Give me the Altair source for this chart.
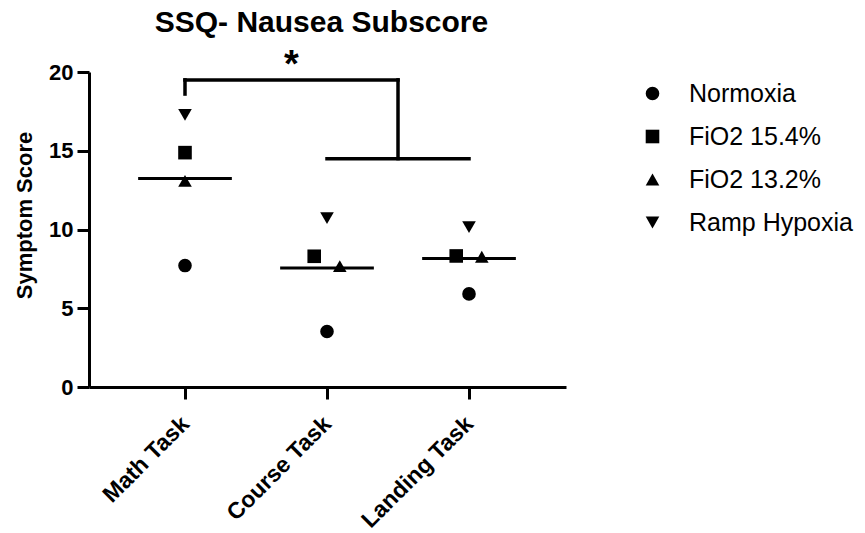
import json
import altair as alt
import pandas as pd

# Task categories and the four oxygen conditions
tasks = ["Math Task", "Course Task", "Landing Task"]
conditions = ["Normoxia", "FiO2 15.4%", "FiO2 13.2%", "Ramp Hypoxia"]
shapes = ["circle", "square", "triangle-up", "triangle-down"]

# Nausea subscore per condition, one value per task (Math, Course, Landing)
normoxia = [7.71, 3.52, 5.91]
fio2_154 = [14.88, 8.30, 8.32]
fio2_132 = [13.09, 7.67, 8.27]
ramp_hypoxia = [17.28, 10.72, 10.15]

# Significance annotation: Math Task vs. Course/Landing Tasks
bracket_top = 19.5
bracket_left_end = 18.6
bracket_group_bar = 14.5
star_label = "*"

FONT = "Liberation Sans"
DODGE = 0.09          # horizontal spread for overlapping points (in category units)
MEAN_HALF = 0.33      # half width of the mean line
X_DOMAIN = [-0.676, 2.683]

series = [normoxia, fio2_154, fio2_132, ramp_hypoxia]
rows = []
for ti, task in enumerate(tasks):
    vals = [(ci, s[ti]) for ci, s in enumerate(series)]
    offs = {ci: 0.0 for ci, _ in vals}
    # spread points that would overlap: earlier condition left, later right
    for a in range(len(vals)):
        for b in range(a + 1, len(vals)):
            if abs(vals[a][1] - vals[b][1]) < 1.0:
                offs[vals[a][0]] = -DODGE
                offs[vals[b][0]] = DODGE
    for ci, v in vals:
        rows.append({"task": task, "idx": ti, "xpos": ti + offs[ci],
                     "condition": conditions[ci], "score": v})
df = pd.DataFrame(rows)

x_scale = alt.Scale(domain=X_DOMAIN, nice=False, zero=False)
y_scale = alt.Scale(domain=[0, 20], nice=False)

label_expr = "%s[datum.value]" % json.dumps(tasks)

x_axis = alt.Axis(values=[0, 1, 2], labelExpr=label_expr, title=None,
                  labelAngle=315, labelAlign="right", labelBaseline="middle",
                  labelPadding=21, labelFontSize=23, labelFontWeight="bold",
                  tickSize=12, grid=False)
y_axis = alt.Axis(values=[0, 5, 10, 15, 20], title="Symptom Score",
                  titleFontSize=22, titleFontWeight="bold", titleAngle=270,
                  titleX=-65, titleY=143, titleAlign="center",
                  titleBaseline="middle",
                  labelFontSize=22, labelFontWeight="bold", labelPadding=4,
                  tickSize=12, grid=False)

points = alt.Chart(df).mark_point(filled=True, size=185, color="black",
                                  opacity=1).encode(
    x=alt.X("xpos:Q", scale=x_scale, axis=x_axis),
    y=alt.Y("score:Q", scale=y_scale, axis=y_axis),
    shape=alt.Shape("condition:N",
                    scale=alt.Scale(domain=conditions, range=shapes),
                    legend=alt.Legend(title=None, orient="none",
                                      legendX=551, legendY=9,
                                      labelFontSize=25, labelFont=FONT,
                                      labelColor="black", labelOffset=24,
                                      labelLimit=400,
                                      symbolSize=185, symbolFillColor="black",
                                      symbolStrokeWidth=0, rowPadding=17,
                                      padding=0)),
)

means = alt.Chart(df).transform_aggregate(
    mean_score="mean(score)", groupby=["task", "idx"]
).transform_calculate(
    x1=f"datum.idx - {MEAN_HALF}", x2=f"datum.idx + {MEAN_HALF}"
).mark_rule(color="black", strokeWidth=3).encode(
    x=alt.X("x1:Q", scale=x_scale, axis=x_axis),
    x2="x2:Q",
    y=alt.Y("mean_score:Q", scale=y_scale, axis=y_axis),
)

# bracket joining Math Task to the Course/Landing pair
left_x = 0
right_x = (1 + 2) / 2
bracket_df = pd.DataFrame([
    {"x1": left_x, "x2": right_x, "y1": bracket_top, "y2": bracket_top},
    {"x1": left_x, "x2": left_x, "y1": bracket_left_end, "y2": bracket_top},
    {"x1": right_x, "x2": right_x, "y1": bracket_group_bar, "y2": bracket_top},
    {"x1": 1, "x2": 2, "y1": bracket_group_bar, "y2": bracket_group_bar},
])
bracket = alt.Chart(bracket_df).mark_rule(
    color="black", strokeWidth=3.5, strokeCap="square"
).encode(
    x=alt.X("x1:Q", scale=x_scale, axis=x_axis),
    x2="x2:Q",
    y=alt.Y("y1:Q", scale=y_scale, axis=y_axis),
    y2="y2:Q",
)

star_df = pd.DataFrame([{"x": (left_x + right_x) / 2, "y": bracket_top,
                         "label": star_label}])
star = alt.Chart(star_df).mark_text(
    font=FONT, fontSize=38, fontWeight="bold", color="black",
    baseline="alphabetic", align="center", dy=-3
).encode(
    x=alt.X("x:Q", scale=x_scale, axis=x_axis),
    y=alt.Y("y:Q", scale=y_scale, axis=y_axis),
    text="label:N",
)

chart = alt.layer(points, means, bracket, star).properties(
    width=477, height=315,
    autosize=alt.AutoSizeParams(type="none"),
    padding={"left": 89, "top": 72, "right": 299, "bottom": 146},
    title=alt.TitleParams("SSQ- Nausea Subscore", font=FONT, fontSize=30,
                          fontWeight="bold", color="black", anchor="middle",
                          dx=-6, offset=9),
).configure_axis(
    labelFont=FONT, titleFont=FONT, labelColor="black", titleColor="black",
    domainColor="black", tickColor="black", domainWidth=3, tickWidth=3,
).configure_view(stroke=None)

chart.save("out.html", embed_options={"renderer": "svg", "actions": False})
